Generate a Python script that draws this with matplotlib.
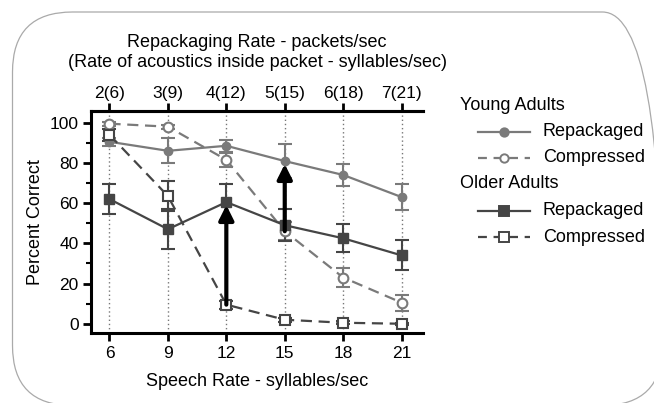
import matplotlib
matplotlib.use("Agg")
import matplotlib.pyplot as plt
from matplotlib.patches import FancyBboxPatch
from matplotlib.lines import Line2D
from matplotlib.ticker import MultipleLocator

plt.rcParams['font.family'] = ['Liberation Sans', 'DejaVu Sans']

speech_rate = [6, 9, 12, 15, 18, 21]
top_labels = ["2(6)", "3(9)", "4(12)", "5(15)", "6(18)", "7(21)"]

young_rep = [90.5, 86.0, 88.5, 80.9, 74.0, 63.0]
young_rep_err = [2.0, 6.3, 3.0, 8.5, 5.5, 6.5]
young_comp = [99.5, 98.0, 81.5, 46.0, 23.0, 10.5]
young_comp_err = [1.0, 1.0, 3.5, 4.5, 4.5, 4.0]
older_rep = [62.0, 47.0, 60.5, 49.0, 42.5, 34.0]
older_rep_err = [7.5, 10.0, 9.0, 8.0, 7.0, 7.5]
older_comp = [94.0, 63.5, 9.5, 2.0, 0.5, 0.0]
older_comp_err = [3.0, 7.5, 2.0, 1.0, 0.8, 0.5]

c_young = '#7a7a7a'
c_old = '#454545'

fig = plt.figure(figsize=(6.54, 4.03), dpi=100)

# rounded frame
frame = FancyBboxPatch((12.5 / 100, -2.5 / 100), 650 / 100, 393.5 / 100,
                       boxstyle="round,pad=0,rounding_size=0.6",
                       transform=fig.dpi_scale_trans, fill=False,
                       edgecolor='#aaaaaa', linewidth=0.9)
fig.patches.append(frame)

ax = fig.add_axes([91 / 654, 1 - 333 / 403, (423 - 91) / 654, (333 - 111) / 403])
ax.set_xlim(5.05, 22.1)
ax.set_ylim(-4.6, 105.8)

for x in speech_rate:
    ax.axvline(x, color='#777777', linestyle=(0, (1, 2)), linewidth=1.0, zorder=1)

ax.errorbar(speech_rate, young_rep, yerr=young_rep_err, color=c_young, marker='o',
            markersize=6, linewidth=1.6, capsize=5, capthick=1.5, elinewidth=1.5, zorder=3)
ax.errorbar(speech_rate, young_comp, yerr=young_comp_err, color=c_young, marker='o',
            markerfacecolor='white', markeredgewidth=1.5, markersize=7, linestyle='--',
            dashes=(5, 3), linewidth=1.6, capsize=5, capthick=1.5, elinewidth=1.5, zorder=3)
ax.errorbar(speech_rate, older_rep, yerr=older_rep_err, color=c_old, marker='s',
            markersize=7, linewidth=1.6, capsize=5, capthick=1.5, elinewidth=1.5, zorder=3)
ax.errorbar(speech_rate, older_comp, yerr=older_comp_err, color=c_old, marker='s',
            markerfacecolor='white', markeredgewidth=1.5, markersize=7, linestyle='--',
            dashes=(5, 3), linewidth=1.6, capsize=5, capthick=1.5, elinewidth=1.5, zorder=3)

# arrows
ax.annotate('', xy=(speech_rate[2], older_rep[2] - 1.5), xytext=(speech_rate[2], older_comp[2]),
            arrowprops=dict(arrowstyle='-|>', color='black', lw=3, mutation_scale=22,
                            shrinkA=0, shrinkB=0), zorder=5)
ax.annotate('', xy=(speech_rate[3], young_rep[3] - 1.5), xytext=(speech_rate[3], young_comp[3]),
            arrowprops=dict(arrowstyle='-|>', color='black', lw=3, mutation_scale=22,
                            shrinkA=0, shrinkB=0), zorder=5)

for s in ['left', 'bottom', 'top']:
    ax.spines[s].set_linewidth(2.2)
ax.spines['right'].set_visible(False)

ax.set_xticks(speech_rate)
ax.set_xticklabels([str(v) for v in speech_rate])
ax.yaxis.set_major_locator(MultipleLocator(20))
ax.yaxis.set_minor_locator(MultipleLocator(10))
ax.tick_params(axis='both', which='major', direction='out', length=6, width=2, labelsize=12.5, pad=3)
ax.tick_params(axis='y', which='minor', direction='out', length=3.5, width=1.5)
ax.set_xlabel('Speech Rate - syllables/sec', fontsize=13, labelpad=9)
ax.set_ylabel('Percent Correct', fontsize=13, labelpad=4)

sec = ax.secondary_xaxis('top')
sec.set_xticks(speech_rate)
sec.set_xticklabels(top_labels)
sec.tick_params(direction='out', length=6, width=2, labelsize=12.5, pad=1)
sec.spines['top'].set_linewidth(2.2)
sec.set_xlabel('Repackaging Rate - packets/sec\n(Rate of acoustics inside packet - syllables/sec)',
               fontsize=13, labelpad=14, linespacing=1.25)

# manual legend
def fy(py):
    return 1 - py / 403

def fx(px):
    return px / 654

fig.text(fx(460), fy(105), 'Young Adults', fontsize=13, va='center', ha='left')
fig.text(fx(460), fy(184), 'Older Adults', fontsize=13, va='center', ha='left')
entries = [
    (131.5, c_young, '-', 'o', c_young, 'Repackaged'),
    (158, c_young, '--', 'o', 'white', 'Compressed'),
    (211, c_old, '-', 's', c_old, 'Repackaged'),
    (237.5, c_old, '--', 's', 'white', 'Compressed'),
]
for py, col, ls, mk, mfc, lab in entries:
    ln = Line2D([fx(478), fx(530)], [fy(py), fy(py)], color=col, linestyle=ls,
                linewidth=1.6, transform=fig.transFigure)
    if ls == '--':
        ln.set_dashes((4, 3))
    fig.lines.append(ln)
    mkr = Line2D([fx(504)], [fy(py)], color=col, marker=mk, markersize=6 if mk == 'o' else 6.5,
                 markerfacecolor=mfc, markeredgewidth=1.4, linestyle='none',
                 transform=fig.transFigure)
    fig.lines.append(mkr)
    fig.text(fx(543), fy(py), lab, fontsize=13, va='center', ha='left')

fig.savefig('out.png', dpi=100)
